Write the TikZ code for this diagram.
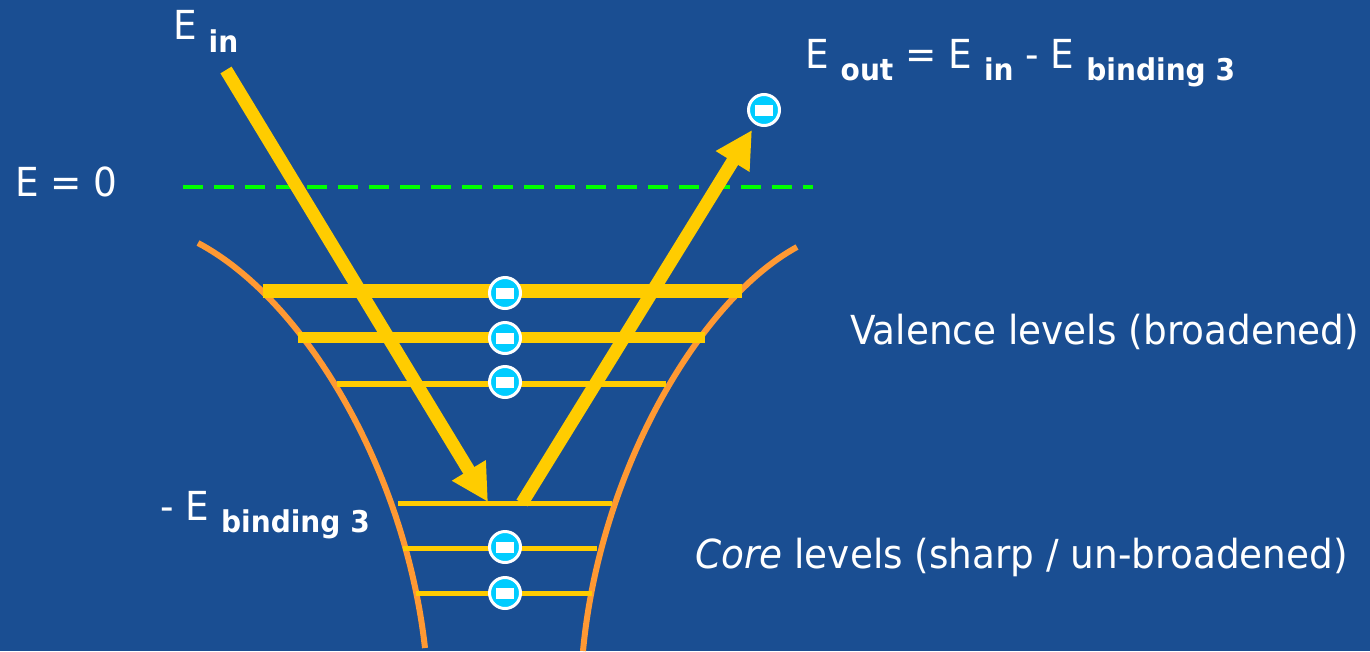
\documentclass[tikz,border=0pt]{standalone}
\usepackage{fontspec}
\setmainfont[FakeStretch=0.935]{DejaVu Sans}
\usetikzlibrary{arrows.meta,calc}
\definecolor{bgblue}{RGB}{26,78,146}
\definecolor{lvl}{RGB}{255,204,0}
\definecolor{wall}{RGB}{255,153,51}
\definecolor{zero}{RGB}{0,255,0}
\definecolor{elec}{RGB}{0,204,255}
\newcommand\lsub[1]{\raisebox{-12pt}{\fontsize{30}{30}\selectfont\bfseries #1}}
\tikzset{
  txt/.style={anchor=base west, inner sep=0pt, text=white, font=\fontsize{40}{48}\selectfont},
  level/.style={draw=lvl, line cap=butt},
  wallline/.style={draw=wall, line width=6pt, line cap=butt},
  arr/.style={draw=lvl, line width=13pt, -{Triangle[length=37pt,width=37pt]}},
  electron/.style={circle, fill=elec, draw=white, line width=3pt, minimum size=31pt, inner sep=0pt,
    path picture={\fill[white] ($(path picture bounding box.center)+(-9,-5.5)$) rectangle ++(18,11);}},
}
\begin{document}
\begin{tikzpicture}[x=1pt,y=-1pt]
\fill[bgblue] (0,0) rectangle (1370,651);
\useasboundingbox (0,0) rectangle (1370,651);

% E = 0 dashed line
\coordinate (z0) at (183,187);
\coordinate (z1) at (813,187);
\draw[zero, line width=4pt, dash pattern=on 20pt off 11pt] (z0) -- (z1);

% walls of the potential
\coordinate (wl0) at (198,243); \coordinate (wl1) at (425,648);
\coordinate (wr0) at (797,247); \coordinate (wr1) at (583,651);
\draw[wallline] (wl0) .. controls (305,300) and (405,470) .. (wl1);
\draw[wallline] (wr0) .. controls (700,300) and (600,470) .. (wr1);

% levels
\coordinate (v1a) at (263,291); \coordinate (v1b) at (742,291);
\coordinate (v2a) at (298,337); \coordinate (v2b) at (705,337);
\coordinate (v3a) at (337,384); \coordinate (v3b) at (666,384);
\coordinate (c1a) at (398,503); \coordinate (c1b) at (612,503);
\coordinate (c2a) at (403,548); \coordinate (c2b) at (597,548);
\coordinate (c3a) at (416,593); \coordinate (c3b) at (592,593);
\draw[level, line width=14pt] (v1a) -- (v1b);
\draw[level, line width=11pt] (v2a) -- (v2b);
\draw[level, line width=6pt] (v3a) -- (v3b);
\draw[level, line width=5pt] (c1a) -- (c1b);
\draw[level, line width=5pt] (c2a) -- (c2b);
\draw[level, line width=5pt] (c3a) -- (c3b);

% arrows
\coordinate (inS) at (226,70);
\coordinate (inT) at (488,502);
\coordinate (outS) at (522,503);
\coordinate (outT) at (752,130);
\draw[arr] (inS) -- (inT);
\draw[arr] (outS) -- (outT);

% electrons
\node[electron] (e1) at (505,293) {};
\node[electron] (e2) at (505,338) {};
\node[electron] (e3) at (505,382) {};
\node[electron] (e4) at (505,547) {};
\node[electron] (e5) at (505,593) {};
\node[electron] (eo) at (764,110) {};

% labels
\node[txt] (ein) at (173,39) {E \raisebox{-13pt}{\fontsize{30}{30}\selectfont\bfseries in}};
\node[txt] (eout) at (805,68) {E \lsub{out} = E \lsub{in} - E \lsub{binding 3}};
\node[txt] (ezero) at (15,196) {E = 0};
\node[txt] (ebind) at (160,520) {- E \lsub{binding 3}};
\node[txt] (val) at (850,344) {Valence levels (broadened)};
\node[txt] (core) at (695,568) {\itshape Core\upshape{} levels (sharp / un-broadened)};
\end{tikzpicture}
\end{document}
